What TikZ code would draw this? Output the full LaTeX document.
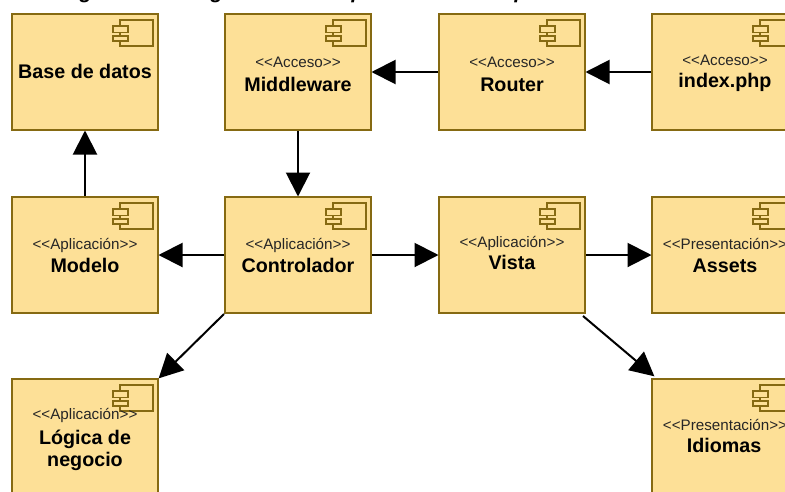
\documentclass[tikz,border=0pt]{standalone}
\usepackage{fontspec}
\setmainfont{Liberation Sans}
\usetikzlibrary{arrows.meta,shadows}
\definecolor{compfill}{HTML}{FDE097}
\definecolor{compline}{HTML}{866A12}
\tikzset{
  compbox/.style={draw=compline,fill=compfill,line width=2pt,minimum width=146pt,minimum height=116pt,inner sep=0pt,
    drop shadow={shadow xshift=1pt,shadow yshift=-1.2pt,opacity=.18,fill=gray}},
  iconpart/.style={draw=compline,fill=compfill,line width=1.8pt},
  stereo/.style={font=\fontsize{15.2}{17}\selectfont,text=black!85,inner sep=0pt,anchor=center,text height=11pt,text depth=0pt},
  compname/.style={font=\fontsize{19.7}{22}\selectfont\bfseries,text=black,inner sep=0pt,anchor=center,text height=14pt,text depth=0pt},
  arr/.style={draw=black,line width=2pt,-{Triangle[length=24pt,width=24pt]},shorten >=-0.5pt},
  captiontext/.style={font=\fontsize{20.8}{24}\selectfont\bfseries\itshape,inner sep=0pt,anchor=base west}
}
\newcommand{\comp}[3]{%
  \node[compbox] (#1) at (#2+73,#3+58) {};
  \begin{scope}[shift={(#2,#3)}]
    \draw[iconpart] (108,6) rectangle (141,32);
    \draw[iconpart] (101,12) rectangle (116,18.5);
    \draw[iconpart] (101,22) rectangle (116,27);
  \end{scope}}
\begin{document}
\begin{tikzpicture}[x=1pt,y=-1pt]
\useasboundingbox (0,0) rectangle (785,491);
\clip (0,0) rectangle (785,491);
\fill[white] (0,0) rectangle (785,491);
\node[captiontext] (capa) at (61,-2) {Figura};
\node[captiontext] (capb) at (178,-2) {Diagrama de componentes de la aplicación};
\comp{bd}{12}{14}
\comp{mw}{225}{14}
\comp{router}{439}{14}
\comp{index}{652}{14}
\comp{modelo}{12}{197}
\comp{ctrl}{225}{197}
\comp{vista}{439}{197}
\comp{assets}{652}{197}
\comp{logica}{12}{379}
\comp{idiomas}{652}{379}
\node[compname] (tbd) at (85,71.5) {Base de datos};
\node[stereo] (smw) at (298,62) {<{}<Acceso>{}>};
\node[compname] (tmw) at (298,84) {Middleware};
\node[stereo] (srt) at (512,62) {<{}<Acceso>{}>};
\node[compname] (trt) at (512,84) {Router};
\node[stereo] (six) at (725,60) {<{}<Acceso>{}>};
\node[compname] (tix) at (725,80) {index.php};
\node[stereo] (smo) at (85,243.5) {<{}<Aplicación>{}>};
\node[compname] (tmo) at (85,265) {Modelo};
\node[stereo] (sct) at (298,243.5) {<{}<Aplicación>{}>};
\node[compname] (tct) at (298,265) {Controlador};
\node[stereo] (svi) at (512,241.5) {<{}<Aplicación>{}>};
\node[compname] (tvi) at (512,262.5) {Vista};
\node[stereo] (sas) at (725,243.5) {<{}<Presentación>{}>};
\node[compname] (tas) at (725,265) {Assets};
\node[stereo] (slo) at (85,413.5) {<{}<Aplicación>{}>};
\node[compname] (tlo1) at (85,437) {Lógica de};
\node[compname] (tlo2) at (85,459) {negocio};
\node[stereo] (sid) at (725,424.5) {<{}<Presentación>{}>};
\node[compname] (tid) at (724,445) {Idiomas};
\draw[arr] (index.west) -- (router.east);
\draw[arr] (router.west) -- (mw.east);
\draw[arr] (mw.south) -- (ctrl.north);
\draw[arr] (modelo.north) -- (bd.south);
\draw[arr] (ctrl.west) -- (modelo.east);
\draw[arr] (ctrl.east) -- (vista.west);
\draw[arr] (vista.east) -- (assets.west);
\draw[arr] (ctrl.south west) -- (logica.north east);
\draw[arr] ([shift={(-3,2)}]vista.south east) -- ([shift={(3,-2)}]idiomas.north west);
\end{tikzpicture}
\end{document}
